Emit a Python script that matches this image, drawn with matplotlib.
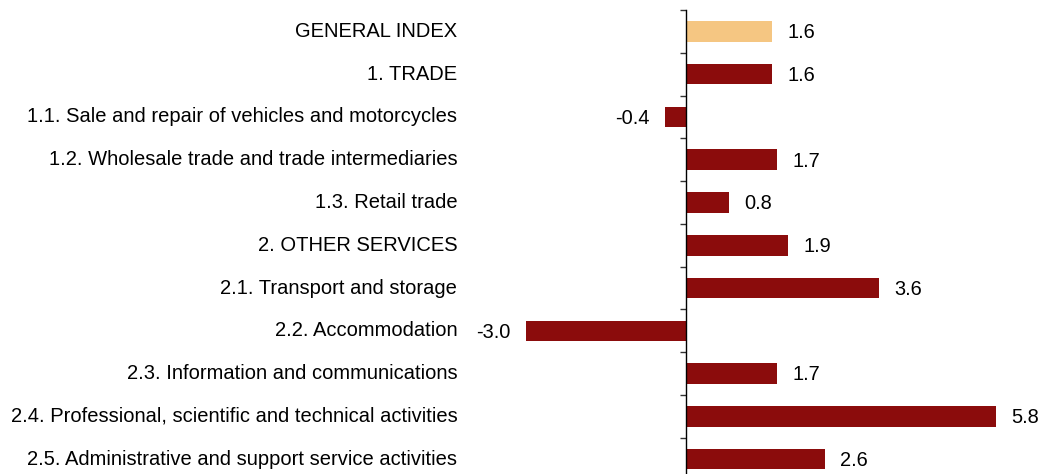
import matplotlib.pyplot as plt
import matplotlib.transforms as mtransforms

plt.rcParams['font.family'] = ['Liberation Sans', 'DejaVu Sans']

categories = [
    "GENERAL INDEX",
    "1. TRADE",
    "1.1. Sale and repair of vehicles and motorcycles",
    "1.2. Wholesale trade and trade intermediaries",
    "1.3. Retail trade",
    "2. OTHER SERVICES",
    "2.1. Transport and storage",
    "2.2. Accommodation",
    "2.3. Information and communications",
    "2.4. Professional, scientific and technical activities",
    "2.5. Administrative and support service activities",
]
values = [1.6, 1.6, -0.4, 1.7, 0.8, 1.9, 3.6, -3.0, 1.7, 5.8, 2.6]

RED = "#8B0C0C"
SAND = "#F5C682"
colors = [SAND] + [RED] * (len(values) - 1)

fig = plt.figure(figsize=(10.43, 4.74), dpi=100)
# axes: left edge at ~462px, top boundary at ~10px, last row runs off the bottom
ax = fig.add_axes([462 / 1043, 1 - 480.5 / 474, 1 - 462 / 1043, 470.5 / 474])

n = len(categories)
ypos = list(range(n))
ax.barh(ypos, values, height=0.48, color=colors, zorder=2)

ax.set_xlim(-4.2, 6.68)
ax.set_ylim(n - 0.5, -0.5)

# value labels
for y, v in zip(ypos, values):
    off = 11 if v >= 0 else -11
    ax.annotate(f"{v:.1f}", (v, y), xytext=(off, -1), textcoords="offset points",
                ha="left" if v >= 0 else "right", va="center", fontsize=14.4)

# category labels, right-aligned just left of the axes
trans = mtransforms.blended_transform_factory(ax.transAxes, ax.transData)
for y, c in zip(ypos, categories):
    ax.text(-0.008, y, c, transform=trans, ha="right", va="center", fontsize=14.5)

# zero line with tick marks between categories
for s in ["top", "right", "bottom"]:
    ax.spines[s].set_visible(False)
ax.spines["left"].set_position(("data", 0))
ax.spines["left"].set_linewidth(1.0)
ax.set_yticks([i - 0.5 for i in range(n + 1)])
ax.set_yticklabels([])
ax.tick_params(axis="y", direction="out", length=4, width=1, color="#333333")
ax.set_xticks([])

fig.savefig("out.png", dpi=100)
